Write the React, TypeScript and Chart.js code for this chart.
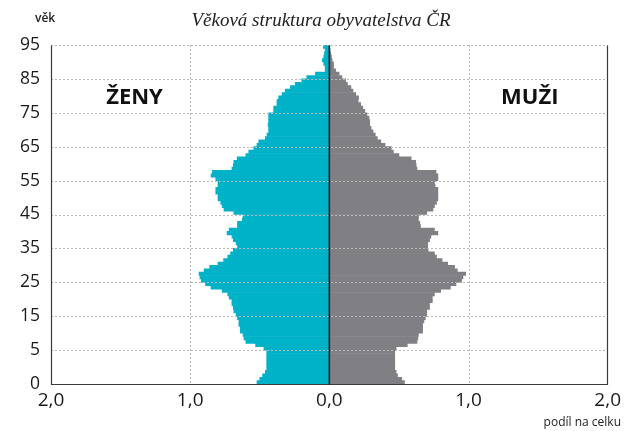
import React, { useEffect, useRef } from "react";
import { Chart, registerables } from "chart.js";

Chart.register(...registerables);

// Age in years (one bar per year of age)
const ages = [
  0, 1, 2, 3, 4, 5, 6, 7, 8, 9,
  10, 11, 12, 13, 14, 15, 16, 17, 18, 19,
  20, 21, 22, 23, 24, 25, 26, 27, 28, 29,
  30, 31, 32, 33, 34, 35, 36, 37, 38, 39,
  40, 41, 42, 43, 44, 45, 46, 47, 48, 49,
  50, 51, 52, 53, 54, 55, 56, 57, 58, 59,
  60, 61, 62, 63, 64, 65, 66, 67, 68, 69,
  70, 71, 72, 73, 74, 75, 76, 77, 78, 79,
  80, 81, 82, 83, 84, 85, 86, 87, 88, 89,
  90, 91, 92, 93, 94, 95, 96, 97, 98, 99,
];

// Share of total population (%), women (plotted to the left)
const zeny = [
  0.52, 0.5, 0.48, 0.46, 0.45, 0.45, 0.45, 0.45, 0.45, 0.45,
  0.47, 0.53, 0.6, 0.614, 0.62, 0.64, 0.64, 0.65, 0.65, 0.66,
  0.67, 0.686, 0.69, 0.7, 0.7, 0.72, 0.73, 0.77, 0.85, 0.89,
  0.92, 0.93, 0.936, 0.9, 0.86, 0.8, 0.76, 0.73, 0.71, 0.69,
  0.66, 0.67, 0.69, 0.7, 0.735, 0.72, 0.66, 0.66, 0.626, 0.62,
  0.686, 0.757, 0.77, 0.78, 0.8, 0.8, 0.816, 0.816, 0.8, 0.8,
  0.816, 0.85, 0.84, 0.7, 0.69, 0.686, 0.662, 0.6, 0.579, 0.543,
  0.52, 0.507, 0.46, 0.448, 0.436, 0.436, 0.44, 0.436, 0.436, 0.436,
  0.4, 0.4, 0.376, 0.376, 0.364, 0.34, 0.317, 0.28, 0.245, 0.198,
  0.162, 0.1, 0.03, 0.03, 0.04, 0.05, 0.04, 0.035, 0.03, 0.043,
];

// Share of total population (%), men (plotted to the right)
const muzi = [
  0.54, 0.52, 0.49, 0.48, 0.47, 0.47, 0.47, 0.47, 0.47, 0.47,
  0.48, 0.56, 0.63, 0.636, 0.64, 0.67, 0.67, 0.67, 0.68, 0.69,
  0.7, 0.7, 0.72, 0.72, 0.74, 0.74, 0.755, 0.8, 0.87, 0.91,
  0.95, 0.96, 0.98, 0.92, 0.9, 0.85, 0.81, 0.77, 0.755, 0.71,
  0.707, 0.707, 0.72, 0.73, 0.78, 0.755, 0.655, 0.65, 0.64, 0.64,
  0.7, 0.745, 0.755, 0.77, 0.78, 0.78, 0.78, 0.78, 0.76, 0.755,
  0.78, 0.78, 0.767, 0.63, 0.624, 0.62, 0.588, 0.5, 0.46, 0.445,
  0.4, 0.37, 0.345, 0.33, 0.314, 0.3, 0.29, 0.29, 0.285, 0.27,
  0.255, 0.24, 0.225, 0.207, 0.21, 0.19, 0.17, 0.155, 0.13, 0.117,
  0.09, 0.07, 0.045, 0.03, 0.03, 0.02, 0.015, 0.01, 0.005, 0.003,
];

// Axis ticks
const xTicks = [-2, -1, 0, 1, 2];
const yTickValues = [0, 10, 20, 30, 40, 50, 60, 70, 80, 90, 100];
const yTickLabels = ["0", "5", "15", "25", "35", "45", "55", "65", "75", "85", "95"];

const TITLE = "Věková struktura obyvatelstva ČR";
const Y_TITLE = "věk";
const X_TITLE = "podíl na celku";
const LEFT_LABEL = "ŽENY";
const RIGHT_LABEL = "MUŽI";

const CYAN = "#00b2c8";
const GRAY = "#7f7f84";
const SANS = "'Open Sans', 'Noto Sans', sans-serif";

const overlayPlugin = {
  id: "overlay",
  afterDatasetsDraw(chart: any) {
    const { ctx, chartArea } = chart;
    const xs = chart.scales.x;
    const ys = chart.scales.y;
    const { left, right, top, bottom } = chartArea;
    ctx.save();
    // horizontal dashed grid (on top of bars)
    ctx.strokeStyle = "#b8b8b8";
    ctx.lineWidth = 1;
    ctx.setLineDash([2, 2]);
    yTickValues.forEach((v) => {
      if (v === 0) return;
      const y = Math.round(ys.getPixelForValue(v)) + 0.5;
      ctx.beginPath();
      ctx.moveTo(left, y);
      ctx.lineTo(right, y);
      ctx.stroke();
    });
    // vertical dashed grid at +-1
    [-1, 1].forEach((v) => {
      const x = Math.round(xs.getPixelForValue(v)) + 0.5;
      ctx.beginPath();
      ctx.moveTo(x, top);
      ctx.lineTo(x, bottom);
      ctx.stroke();
    });
    ctx.setLineDash([]);
    // frame
    ctx.strokeStyle = "#3a3a3a";
    ctx.lineWidth = 1.2;
    const xl = Math.round(xs.getPixelForValue(-2)) + 0.5;
    const xr = Math.round(xs.getPixelForValue(2)) - 0.5;
    const yb = Math.round(ys.getPixelForValue(0)) + 0.5;
    const yt = Math.round(ys.getPixelForValue(100)) + 0.5;
    ctx.beginPath();
    ctx.moveTo(xl, yt);
    ctx.lineTo(xl, yb);
    ctx.lineTo(xr, yb);
    ctx.lineTo(xr, yt);
    ctx.stroke();
    // centre line
    ctx.strokeStyle = "#0b2528";
    ctx.lineWidth = 1.6;
    const xc = xs.getPixelForValue(0);
    ctx.beginPath();
    ctx.moveTo(xc, yt);
    ctx.lineTo(xc, yb);
    ctx.stroke();

    // texts
    ctx.fillStyle = "#222";
    ctx.textBaseline = "middle";
    ctx.textAlign = "center";
    ctx.font = "italic 19px 'Liberation Serif', 'DejaVu Serif', serif";
    ctx.fillText(TITLE, 321, 21);
    ctx.font = `600 12px ${SANS}`;
    ctx.textAlign = "left";
    ctx.fillText(Y_TITLE, 35, 19);
    ctx.font = `12px ${SANS}`;
    ctx.textAlign = "right";
    ctx.fillText(X_TITLE, 621, 423);
    ctx.font = `bold 22px ${SANS}`;
    ctx.textAlign = "center";
    ctx.fillStyle = "#111";
    ctx.fillText(LEFT_LABEL, xs.getPixelForValue(-1.4), ys.getPixelForValue(84.5));
    ctx.fillText(RIGHT_LABEL, xs.getPixelForValue(1.44), ys.getPixelForValue(84.5));
    ctx.restore();
  },
};

export default function App() {
  const ref = useRef<HTMLCanvasElement | null>(null);
  useEffect(() => {
    if (!ref.current) return;
    const chart = new Chart(ref.current, {
      type: "bar",
      data: {
        datasets: [
          {
            label: LEFT_LABEL,
            data: ages.map((a, i) => ({ x: -zeny[i], y: a + 0.5 })),
            backgroundColor: CYAN,
            borderWidth: 0,
            barPercentage: 1,
            categoryPercentage: 1,
          },
          {
            label: RIGHT_LABEL,
            data: ages.map((a, i) => ({ x: muzi[i], y: a + 0.5 })),
            backgroundColor: GRAY,
            borderWidth: 0,
            barPercentage: 1,
            categoryPercentage: 1,
          },
        ],
      },
      plugins: [overlayPlugin],
      options: {
        indexAxis: "y",
        animation: false,
        responsive: false,
        maintainAspectRatio: false,
        layout: { padding: { top: 45, right: 15, left: 0, bottom: 0 } },
        plugins: {
          legend: { display: false },
          tooltip: { enabled: false },
          title: { display: false },
        },
        scales: {
          x: {
            type: "linear",
            stacked: true,
            offset: false,
            min: -2,
            max: 2,
            afterBuildTicks: (scale: any) => {
              scale.ticks = xTicks.map((v) => ({ value: v }));
            },
            afterFit: (scale: any) => {
              scale.height = 47;
            },
            grid: { display: false, drawTicks: false },
            border: { display: false },
            ticks: {
              padding: 5,
              color: "#1a1a1a",
              font: { family: SANS, size: 19 },
              callback: (v: any) => Math.abs(Number(v)).toFixed(1).replace(".", ","),
            },
          },
          y: {
            type: "linear",
            stacked: true,
            offset: false,
            min: 0,
            max: 100,
            afterBuildTicks: (scale: any) => {
              scale.ticks = yTickValues.map((v) => ({ value: v }));
            },
            afterFit: (scale: any) => {
              scale.width = 51;
            },
            grid: { display: false, drawTicks: false },
            border: { display: false },
            ticks: {
              padding: 11,
              color: "#1a1a1a",
              font: { family: SANS, size: 17.5 },
              callback: (v: any) => {
                const i = yTickValues.indexOf(Number(v));
                return i >= 0 ? yTickLabels[i] : "";
              },
            },
          },
        },
      },
    });
    return () => chart.destroy();
  }, []);
  return (
    <div style={{ position: "absolute", left: 0, top: 0, width: 626, height: 431, background: "#fff" }}>
      <canvas ref={ref} width={626} height={431} style={{ width: 626, height: 431, display: "block" }} />
    </div>
  );
}
